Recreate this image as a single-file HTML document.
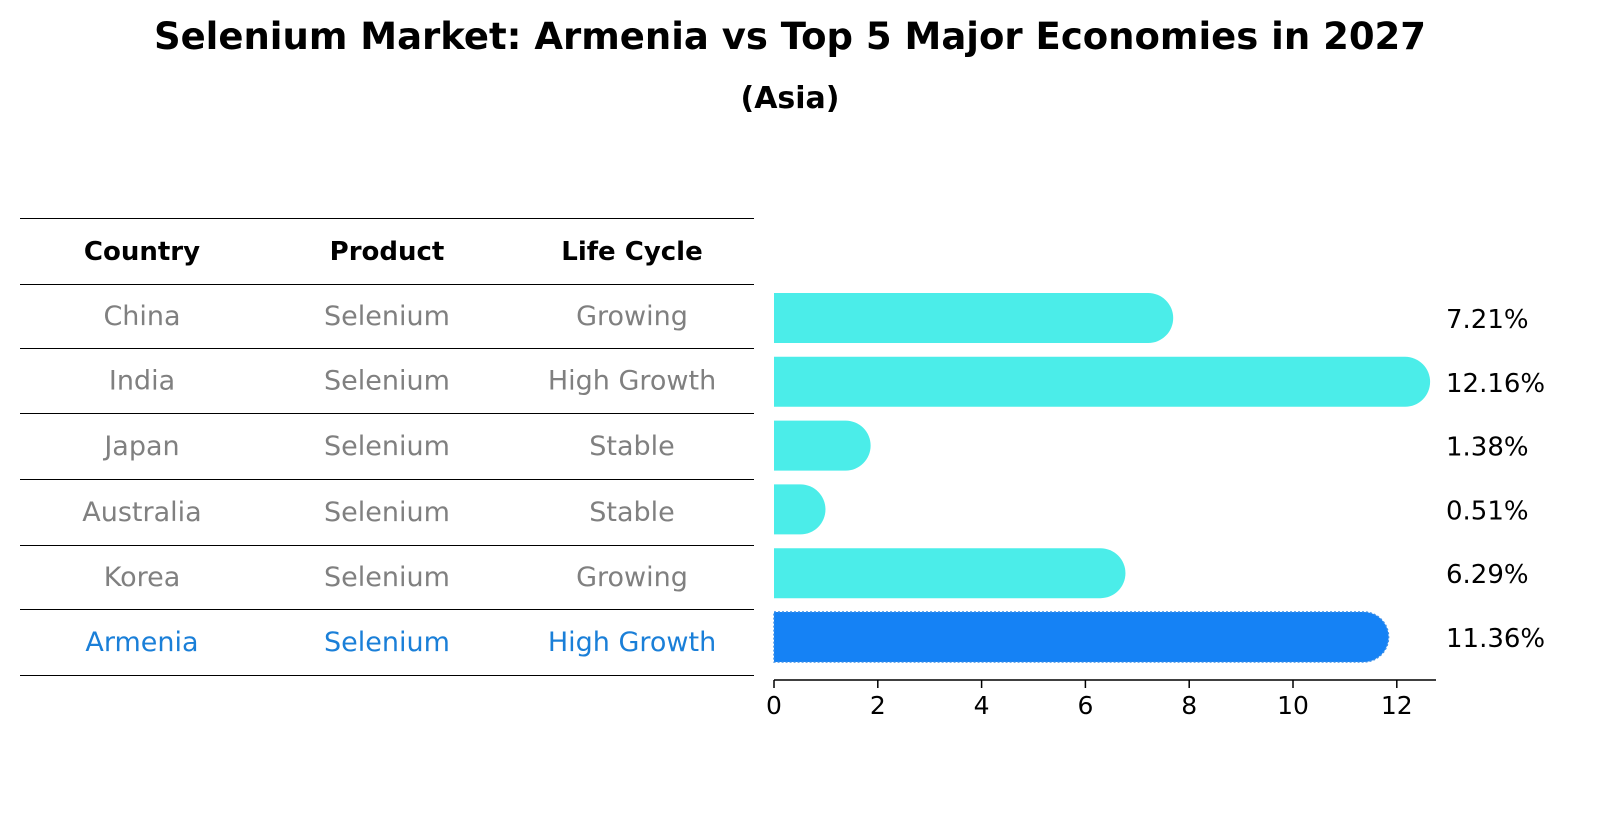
<!DOCTYPE html>
<html><head><meta charset="utf-8"><style>
body{margin:0;background:#fff;overflow:hidden}
svg{display:block}
svg text{font-family:"DejaVu Sans","Liberation Sans",sans-serif}
</style></head><body>
<svg id="c" width="1604" height="823" viewBox="0 0 1604 823">
<text x="790" y="49" text-anchor="middle" font-size="37" font-weight="bold">Selenium Market: Armenia vs Top 5 Major Economies in 2027</text>
<text x="790" y="108" text-anchor="middle" font-size="30" font-weight="bold">(Asia)</text>
<g id="table"></g>
<g id="bars"></g>
</svg>
<script>
const countries=["China","India","Japan","Australia","Korea","Armenia"];
const products=["Selenium","Selenium","Selenium","Selenium","Selenium","Selenium"];
const lifecycles=["Growing","High Growth","Stable","Stable","Growing","High Growth"];
const values=[7.21,12.16,1.38,0.51,6.29,11.36];
const valueLabels=["7.21%","12.16%","1.38%","0.51%","6.29%","11.36%"];
const ticks=[0,2,4,6,8,10,12];
const NS="http://www.w3.org/2000/svg";
function mk(tag,attrs,parent,txt){const e=document.createElementNS(NS,tag);for(const k in attrs)e.setAttribute(k,attrs[k]);if(txt!==undefined)e.textContent=txt;parent.appendChild(e);return e;}
const tbl=document.getElementById('table');
const lines=[218,284,348,413,479,545,609,675];
lines.forEach(y=>{const l=mk('line',{x1:20,x2:754,y1:y+0.5,y2:y+0.5,stroke:'#000','stroke-width':1},tbl);

});
const cols=[142,387,632];
["Country","Product","Life Cycle"].forEach((h,i)=>{const t=mk('text',{x:cols[i],y:260,'text-anchor':'middle','font-size':26,'font-weight':'bold'},tbl,h);

});
const rowY=i=>(lines[i+1]+lines[i+2])/2+9;
countries.forEach((c,i)=>{const col=i===countries.length-1?'#1a7fd8':'#808080';
[c,products[i],lifecycles[i]].forEach((v,j)=>{const t=mk('text',{x:cols[j],y:rowY(i),'text-anchor':'middle','font-size':27,fill:col},tbl,v);

});});
const bg=document.getElementById('bars');
const x0=774,ppu=51.9,xs=v=>x0+v*ppu;
const yc=i=>318+i*63.8, h=50, r=25;
values.forEach((v,i)=>{const xe=xs(v),yt=yc(i)-h/2;
const last=i===values.length-1;
const p=mk('path',{d:`M${x0},${yt}H${xe}A${r},${r} 0 0 1 ${xe},${yt+h}H${x0}Z`,fill:last?'#1582f5':'#4bede9',stroke:last?'#3a8ee8':'none','stroke-dasharray':last?'2,2':'none','stroke-width':1.5},bg);


const t=mk('text',{x:1446,y:yc(i)+10,'font-size':26},bg,valueLabels[i]);

});
const ax=mk('line',{x1:x0,x2:1436,y1:680,y2:680,stroke:'#000','stroke-width':1.5},bg);


ticks.forEach(t=>{const tk=mk('line',{x1:xs(t),x2:xs(t),y1:680,y2:688,stroke:'#000','stroke-width':1.5},bg);


const tl=mk('text',{x:xs(t),y:714,'text-anchor':'middle','font-size':25},bg,String(t));

});
</script>
</body></html>
